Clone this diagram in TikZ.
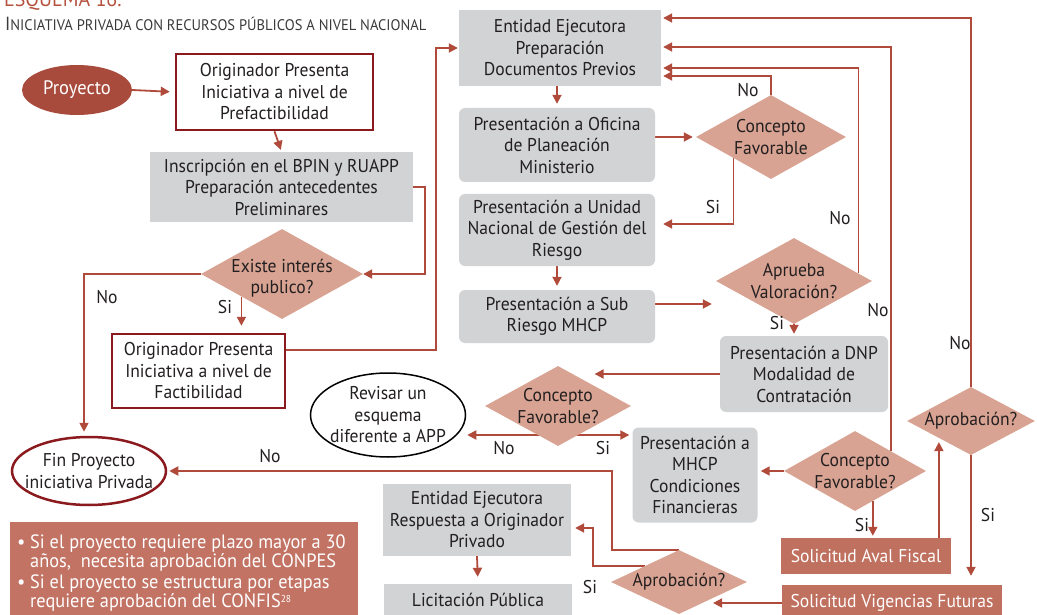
\documentclass[tikz,border=0pt]{standalone}
\usepackage{fontspec}
\setmainfont{PT Sans}[FakeStretch=0.95]
\usetikzlibrary{shapes.geometric,arrows.meta,calc,backgrounds}
\definecolor{ink}{HTML}{231F20}
\definecolor{subink}{HTML}{3A3A3C}
\definecolor{titlered}{HTML}{B5533F}
\definecolor{flowred}{HTML}{B04B3B}
\definecolor{boxgray}{HTML}{D1D3D4}
\definecolor{diafill}{HTML}{D8A392}
\definecolor{darkred}{HTML}{8B1A1F}
\definecolor{proyfill}{HTML}{A84B3C}
\definecolor{solfill}{HTML}{C0705F}
\definecolor{notefill}{HTML}{C27364}
\begin{document}
\begin{tikzpicture}[x=1pt,y=-1pt,
  every node/.style={text=ink, font=\fontsize{18.5}{21.5}\selectfont, align=center, inner sep=0pt},
  sz/.style 2 args={minimum width=#1, minimum height=#2},
  gbox/.style={rectangle, fill=boxgray},
  rbox/.style={rectangle, fill=boxgray, rounded corners=6pt},
  obox/.style={rectangle, draw=darkred, line width=2.5pt, fill=white},
  dia/.style={diamond, fill=diafill},
  solbox/.style={rectangle, fill=solfill, text=white},
  flow/.style={draw=flowred, line width=1.8pt, -{Triangle[length=9pt,width=9pt]}},
  lbl/.style={text=ink},
  notetxt/.style={text=white, anchor=base west, font=\fontsize{19.3}{21}\selectfont}]
\useasboundingbox (0,0) rectangle (1037,615);

% heading
\node[anchor=base west, text=titlered, font=\fontsize{21}{21}\selectfont] (ttl) at (4,7) {ESQUEMA 16.};
\node[anchor=base west, text=subink] (subttl) at (5,31)
  {{\fontsize{19}{19}\selectfont I}{\fontsize{15.3}{19}\selectfont NICIATIVA PRIVADA CON RECURSOS PÚBLICOS A NIVEL NACIONAL}};

% left column
\node[ellipse, fill=proyfill, sz={110}{50}, label={[text=white, font=\fontsize{19.5}{21}\selectfont]center:Proyecto}] (proy) at (77,90) {};
\node[obox, sz={197}{76}] (orig1) at (274.5,92) {Originador Presenta\\Iniciativa a nivel de\\Prefactibilidad};
\node[gbox, sz={263}{70}] (bpin) at (281.5,187) {Inscripción en el BPIN y RUAPP\\Preparación antecedentes\\Preliminares};
\node[dia, sz={162}{90}, label={[yshift=-4pt]center:Existe interés\\publico?}] (d1) at (282,274) {};
\node[obox, sz={173}{74}] (orig2) at (198.5,371) {Originador Presenta\\Iniciativa a nivel de\\Factibilidad};
\node[ellipse, draw=darkred, line width=2.5pt, fill=white, sz={154}{68}, label={center:Fin Proyecto\\iniciativa Privada}] (fin) at (89,471) {};

% middle column
\node[gbox, sz={202}{76}] (ent) at (560,48) {Entidad Ejecutora\\Preparación\\Documentos Previos};
\node[rbox, sz={196}{74}] (ofi) at (557,145) {Presentación a Oficina\\de Planeación\\Ministerio};
\node[rbox, sz={196}{72}] (uni) at (557,230) {Presentación a Unidad\\Nacional de Gestión del\\Riesgo};
\node[rbox, sz={196}{53}] (sub) at (557,316.5) {Presentación a Sub\\Riesgo MHCP};
\node[dia, sz={150}{84}, label={center:Concepto\\Favorable}] (d2) at (771,137) {};
\node[dia, sz={156}{86}, label={center:Aprueba\\Valoración?}] (d3) at (794,281) {};
\node[rbox, sz={168}{76}] (dnp) at (804,374) {Presentación a DNP\\Modalidad de\\Contratación};
\node[dia, sz={146}{80}, label={center:Concepto\\Favorable?}] (d4) at (558,406) {};
\node[ellipse, draw=black, line width=1.5pt, fill=white, sz={155}{84}, label={center:Revisar un\\esquema\\diferente a APP}] (rev) at (388,415) {};
\node[rbox, sz={125}{95}] (mhcp) at (695,475) {Presentación a\\MHCP\\Condiciones\\Financieras};

% right column
\node[dia, sz={142}{80}, label={center:Concepto\\Favorable?}] (d5) at (855,471) {};
\node[dia, sz={128}{68}, label={center:Aprobación?}] (d6) at (971,421) {};
\node[solbox, sz={170}{36}] (aval) at (866,556) {Solicitud Aval Fiscal};
\node[solbox, sz={220}{36}] (vig) at (892,603) {Solicitud Vigencias Futuras};
\node[dia, sz={136}{64}, label={center:Aprobación?}] (d7) at (679,582) {};
\node[gbox, sz={188}{72}] (resp) at (477,520) {Entidad Ejecutora\\Respuesta a Originador\\Privado};
\node[gbox, sz={188}{32}] (lic) at (478,600) {Licitación Pública};

% note
\node[rectangle, fill=notefill, anchor=north west, sz={348}{100}] (note) at (10,522) {};
\node[notetxt] (nb1) at (17,548) {•};
\node[notetxt] (n1) at (30,548) {Si el proyecto requiere plazo mayor a 30};
\node[notetxt] (n2) at (30,567) {años,\ \ necesita aprobación del CONPES};
\node[notetxt] (nb2) at (17,588) {•};
\node[notetxt] (n3) at (30,588) {Si el proyecto se estructura por etapas};
\node[notetxt] (n4) at (30,607) {requiere aprobación del CONFIS\raisebox{5pt}{\fontsize{10}{10}\selectfont 28}};

% branch labels
\node[lbl] (l1) at (107,297) {No};
\node[lbl] (l2) at (225,307) {Si};
\node[lbl] (l3) at (748,90) {No};
\node[lbl] (l4) at (713,207) {Si};
\node[lbl] (l5) at (840,218) {No};
\node[lbl] (l6) at (777,323) {Si};
\node[lbl] (l7) at (878,310) {No};
\node[lbl] (l8) at (960,343) {No};
\node[lbl] (l9) at (504,448) {No};
\node[lbl] (l10) at (603,448) {Si};
\node[lbl] (l11) at (270,456) {No};
\node[lbl] (l12) at (862,525) {Si};
\node[lbl] (l13) at (988,515) {Si};
\node[lbl] (l14) at (590,587) {Si};

\begin{pgfonlayer}{background}
  \coordinate (d3r) at ($(d3.north east)!0.65!(d3.east)$);
  \coordinate (d4c) at ([yshift=-29pt]d4.center);
  \coordinate (d5s) at ($(d5.south)!0.5!(d5.south east)$);
  \draw[flow, shorten >=5pt] (proy.east) -- (orig1.west);
  \draw[flow, shorten >=2pt] (orig1.south) -- (bpin.north);
  \draw[flow] (bpin.east) -- ++(12,0) |- (d1.east);
  \draw[flow, shorten >=4pt] (d1.west) -| ([xshift=-5pt]fin.north);
  \draw[flow, shorten >=7pt] (d1.south west) -- (d1.south west |- orig2.north);
  \draw[flow, shorten >=1pt] ([yshift=21pt]orig2.east) -- ++(150,0) |- (ent.west);
  \draw[flow, shorten >=4pt] (ofi.north |- ent.south) -- (ofi.north);
  \draw[flow, shorten >=3pt] (d2.west -| ofi.east) -- (d2.west);
  \draw[flow, shorten >=2pt] (d2.north) |- ([yshift=-28pt]ent.east);
  \draw[flow, shorten >=8pt] (d2.south west) |- ([yshift=6pt]uni.east);
  \draw[flow, shorten >=4pt] (uni.south) -- (sub.north);
  \draw[flow, shorten >=4pt] ([yshift=12.5pt]sub.east) -- ([yshift=12.5pt]sub.east -| d3.west);
  \draw[flow, shorten >=2pt] (d3r) |- ([yshift=-20pt]ent.east);
  \draw[flow, shorten >=2pt] (d3.south) -- (d3.south |- dnp.north);
  \draw[flow] (dnp.west) -- (dnp.west -| d4.north east);
  \draw[flow, shorten >=1pt] (d4c) -- (d4c -| rev.east);
  \draw[flow, shorten >=3pt] (d4c) -- (d4c -| mhcp.west);
  \draw[flow, shorten >=3pt] (d5.west) -- (d5.west -| mhcp.east);
  \draw[flow, shorten >=2pt] (d5.north east) |- ([yshift=1pt]ent.east);
  \draw[flow, shorten >=2pt] (d5s) -- (d5s |- aval.north);
  \draw[flow, shorten >=4pt] (aval.north -| d6.south west) -- (d6.south west);
  \draw[flow, shorten >=2pt] (d6.north) |- ([yshift=30pt]ent.east);
  \draw[flow, shorten >=9pt] (d6.south) -- (d6.south |- vig.north);
  \draw[flow] (vig.west) -- (vig.west -| d7.south east);
  \draw[flow, shorten >=2pt] (d7.north) -- ++(-67,0) |- (fin.east);
  \draw[flow, shorten >=4pt] (d7.north west) -- ++(-52,0) |- ([yshift=-8pt]resp.east);
  \draw[flow, shorten >=7pt] (resp.south) -- (lic.north);
\end{pgfonlayer}
\end{tikzpicture}
\end{document}
